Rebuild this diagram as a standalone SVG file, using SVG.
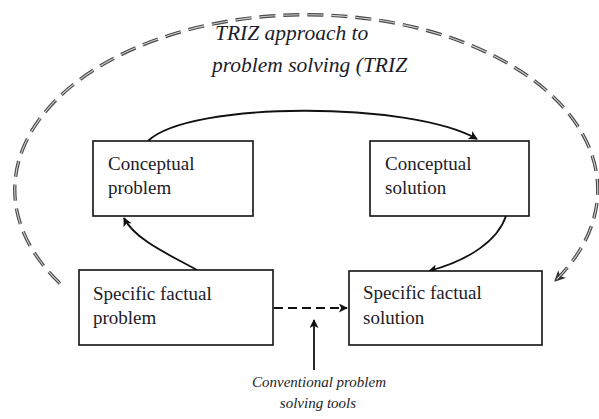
<svg xmlns="http://www.w3.org/2000/svg" width="599" height="419" viewBox="0 0 599 419">
<style>
.box{fill:#fff;stroke:#111;stroke-width:1.6}
.lbl{font-family:"Liberation Serif","Times New Roman",serif;font-size:19px;fill:#1c1c28}
.it{font-family:"Liberation Serif","Times New Roman",serif;font-style:italic;fill:#1c1c28}
.con{fill:none;stroke:#111;stroke-width:1.8}
.ell{fill:none;stroke:#4a4a4a;stroke-width:3.4;stroke-dasharray:16 8}
.ellin{fill:none;stroke:#cfcfcf;stroke-width:1.1;stroke-dasharray:16 8}
</style>
<defs>
<marker id="ah" viewBox="0 0 10 10" refX="9" refY="5" markerWidth="10" markerHeight="9" markerUnits="userSpaceOnUse" orient="auto">
<path d="M0,0 L10,5 L0,10 L2.5,5 Z" fill="#111"/>
</marker>
<marker id="ahg" viewBox="0 0 10 10" refX="9" refY="5" markerWidth="13" markerHeight="11" markerUnits="userSpaceOnUse" orient="auto">
<path d="M0,0 L10,5 L0,10 L2.5,5 Z" fill="#333"/>
</marker>
</defs>
<rect width="599" height="419" fill="#fff"/>
<g id="cycle">
<path class="ell" d="M 60 283.4 A 291.5 175 0 1 1 555 281" marker-end="url(#ahg)"/>
<path class="ellin" d="M 60 283.4 A 291.5 175 0 1 1 555 281"/>
<text class="it" x="215" y="40" font-size="21.5">TRIZ approach to</text>
<text class="it" x="212" y="72" font-size="21.5">problem solving (TRIZ</text>
</g>
<g id="connectors">
<path class="con" d="M 148 141 C 190 101, 410 101, 477 139" marker-end="url(#ah)"/>
<path class="con" d="M 197 270 C 170 255, 135 240, 124 218" marker-end="url(#ah)"/>
<path class="con" d="M 506 216 C 498 240, 470 260, 429 271" marker-end="url(#ah)"/>
<path class="con" d="M 274 308 L 347 308" stroke-dasharray="9 5" marker-end="url(#ah)"/>
<path class="con" d="M 314 370 L 314 320" marker-end="url(#ah)"/>
</g>
<g id="conceptual-problem">
<rect class="box" x="93" y="141" width="160" height="75"/>
<text class="lbl" x="108" y="170">Conceptual</text>
<text class="lbl" x="108" y="194">problem</text>
</g>
<g id="conceptual-solution">
<rect class="box" x="370" y="141" width="159" height="75"/>
<text class="lbl" x="385" y="170">Conceptual</text>
<text class="lbl" x="385" y="194">solution</text>
</g>
<g id="specific-problem">
<rect class="box" x="79" y="270" width="194" height="75"/>
<text class="lbl" x="93" y="300">Specific factual</text>
<text class="lbl" x="93" y="324">problem</text>
</g>
<g id="specific-solution">
<rect class="box" x="349" y="271" width="193" height="74"/>
<text class="lbl" x="363" y="299">Specific factual</text>
<text class="lbl" x="363" y="324">solution</text>
</g>
<g id="tools-label">
<text class="it" x="319" y="387" font-size="15" text-anchor="middle">Conventional problem</text>
<text class="it" x="318" y="408" font-size="15" text-anchor="middle">solving tools</text>
</g>
</svg>
